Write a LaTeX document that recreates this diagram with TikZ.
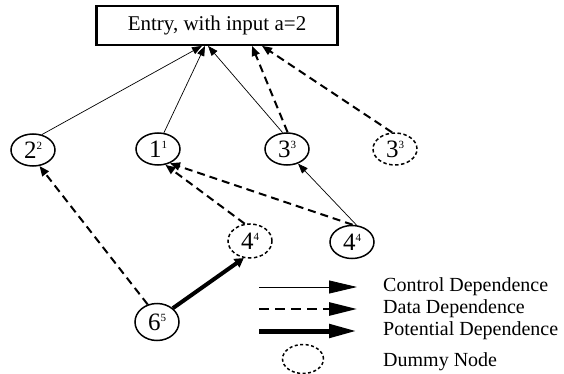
\documentclass[tikz,border=0pt]{standalone}
\usepackage{fontspec}
\setmainfont{Liberation Serif}
\usetikzlibrary{shapes.geometric,arrows.meta}
\newcommand{\nlab}[2]{\fontsize{25}{25}\selectfont #1\raisebox{8.5pt}{\fontsize{11}{11}\selectfont #2}}
\begin{document}
\begin{tikzpicture}[x=1pt,y=-1pt,
  nd/.style={ellipse,draw,line width=1.5pt,minimum width=44pt,minimum height=32pt,inner sep=0pt},
  dummy/.style={nd,dash pattern=on 3.5pt off 2.5pt},
  ctrl/.style={line width=0.7pt,-{Triangle[length=10pt,width=7.5pt]}},
  datadep/.style={line width=2pt,dash pattern=on 8pt off 5pt,-{Triangle[length=10pt,width=8pt]}},
  pot/.style={line width=4pt,-{Triangle[length=9pt,width=10pt]}},
  lctrl/.style={line width=0.8pt,-{Triangle[length=28pt,width=13pt]}},
  ldata/.style={line width=2.6pt,dash pattern=on 10pt off 6pt,-{Triangle[length=28pt,width=13pt]}},
  lpot/.style={line width=5pt,-{Triangle[length=28pt,width=13pt]}},
  ltext/.style={anchor=west,inner sep=0pt,font=\fontsize{20}{20}\selectfont}
]
\useasboundingbox (0,0) rectangle (564,374);
% entry
\node[draw,line width=1.8pt,minimum width=240pt,minimum height=39pt,inner sep=0pt,
  font=\fontsize{21}{21}\selectfont] (entry) at (217,25.5) {Entry, with input a=2};
\draw[line width=3pt] (entry.north west) -- (entry.south west);
\draw[line width=3pt] (entry.north east) -- (entry.south east);
% nodes
\node[nd] (n2) at (33,150) {\nlab{2}{2}};
\node[nd] (n1) at (158,149) {\nlab{1}{1}};
\node[nd] (n3) at (287,149) {\nlab{3}{3}};
\node[dummy] (d3) at (395,149) {\nlab{3}{3}};
\node[dummy,minimum height=34pt] (d4) at (250,241) {\nlab{4}{4}};
\node[nd,minimum height=33pt] (n4) at (352,242) {\nlab{4}{4}};
\node[nd,minimum height=37pt] (n6) at (157,322) {\nlab{6}{5}};
% edges
\draw[ctrl] (n2.60) -- ([xshift=-15pt]entry.south);
\draw[ctrl] (n1.70) -- ([xshift=-12pt]entry.south);
\draw[ctrl] (n3.105) -- ([xshift=-9pt]entry.south);
\draw[datadep] (n3.88) -- ([xshift=35pt]entry.south);
\draw[datadep] (d3.100) -- ([xshift=45pt]entry.south);
\draw[datadep] (n6.118) -- (n2.-68);
\draw[pot] (n6.41) -- (d4.-110);
\draw[datadep] (n4.88) -- (n1.-50);
\draw[datadep] (d4.107) -- (n1.-65);
\draw[ctrl] (n4.75) -- (n3.-53);
% legend
\coordinate (l1a) at (259,287); \coordinate (l1b) at (357,287);
\coordinate (l2a) at (259,309); \coordinate (l2b) at (357,309);
\coordinate (l3a) at (259,331); \coordinate (l3b) at (357,331);
\draw[lctrl] (l1a) -- (l1b);
\draw[ldata] (l2a) -- (l2b);
\draw[lpot] (l3a) -- (l3b);
\node[ellipse,draw,line width=1.5pt,dash pattern=on 3pt off 2.5pt,minimum width=41pt,minimum height=29pt] (ld) at (303,359) {};
\node[ltext] (t1) at (383,287) {Control Dependence};
\node[ltext] (t2) at (383,309) {Data Dependence};
\node[ltext] (t3) at (383,331) {Potential Dependence};
\node[ltext] (t4) at (383,362) {Dummy Node};
\end{tikzpicture}
\end{document}
